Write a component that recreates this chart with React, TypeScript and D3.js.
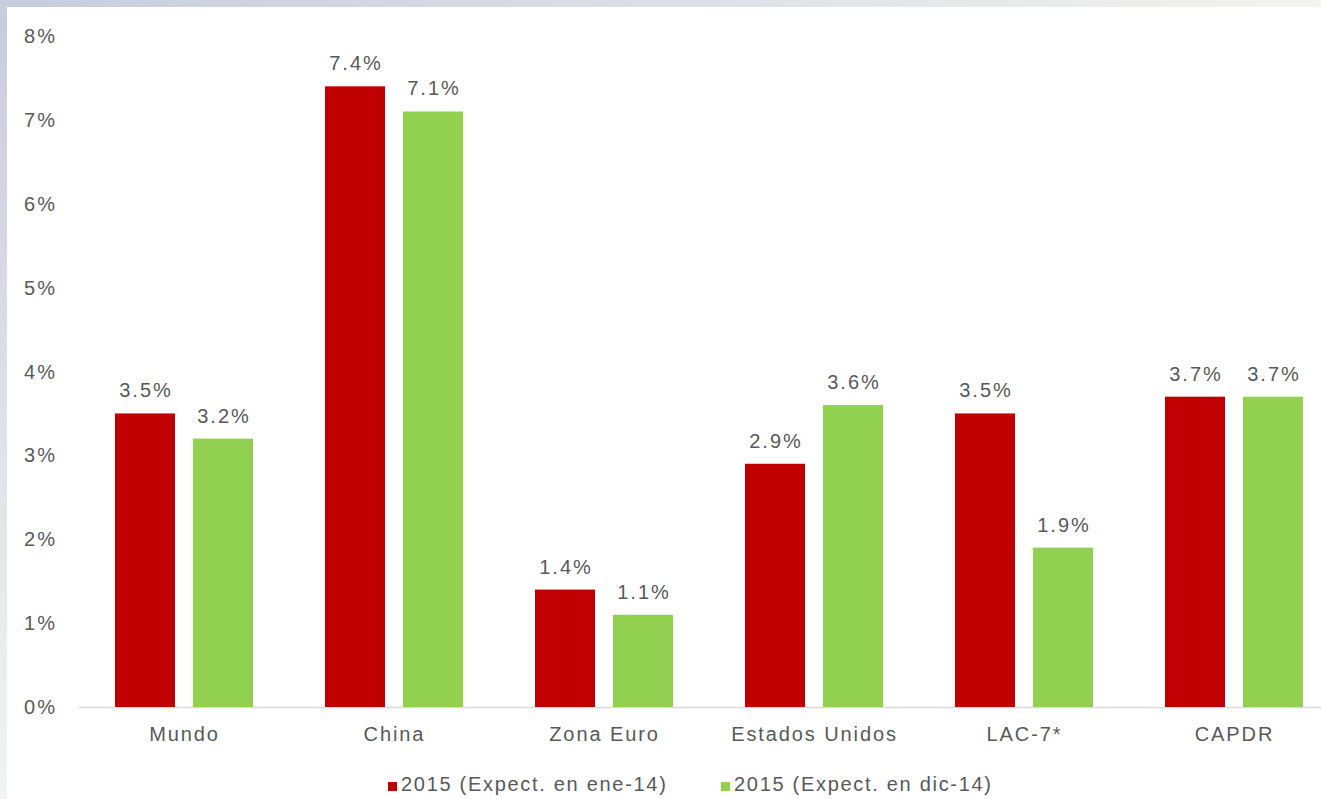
import React from "react";
import * as d3 from "d3";

const categories = ["Mundo", "China", "Zona Euro", "Estados Unidos", "LAC-7*", "CAPDR"];
const seriesNames = ["2015 (Expect. en ene-14)", "2015 (Expect. en dic-14)"];
const expectEne14 = [3.5, 7.4, 1.4, 2.9, 3.5, 3.7];
const expectDic14 = [3.2, 7.1, 1.1, 3.6, 1.9, 3.7];
const yTicks = [0, 1, 2, 3, 4, 5, 6, 7, 8];
const colors = ["#C00000", "#92D050"];

const W = 1321;
const H = 799;
const FONT = "'Liberation Sans', Arial, sans-serif";
const TEXT = "#595959";

export default function App() {
  const x = d3.scaleBand<string>().domain(categories).range([78.5, 1338.5]).paddingInner(0).paddingOuter(0);
  const inner = d3
    .scaleBand<number>()
    .domain([0, 1])
    .range([36.5, x.bandwidth() - 35.5])
    .paddingInner(18 / 78);
  const y = d3.scaleLinear().domain([0, 8]).range([707, 36]);
  const series = [expectEne14, expectDic14];

  return (
    <svg
      width={W}
      height={H}
      style={{ position: "absolute", left: 0, top: 0, display: "block" }}
      fontFamily={FONT}
    >
      <defs>
        <linearGradient id="frame" x1="0" y1="0" x2="1" y2="0.4">
          <stop offset="0" stopColor="#c6cddb" />
          <stop offset="0.5" stopColor="#dfe2e8" />
          <stop offset="1" stopColor="#fbfaf0" />
        </linearGradient>
        <linearGradient id="frameL" x1="0" y1="0" x2="0" y2="1">
          <stop offset="0" stopColor="#c6cddb" />
          <stop offset="1" stopColor="#f2f3f6" />
        </linearGradient>
      </defs>
      <rect x={0} y={0} width={W} height={H} fill="url(#frame)" />
      <rect x={0} y={0} width={7} height={H} fill="url(#frameL)" />
      <rect x={7} y={7} width={W - 7} height={H - 7} fill="#ffffff" />

      {/* y tick labels */}
      {yTicks.map((t) => (
        <text
          key={t}
          x={57}
          y={y(t) + 7}
          textAnchor="end"
          fontSize={20}
          letterSpacing={2}
          fill={TEXT}
        >
          {t + "%"}
        </text>
      ))}

      {/* baseline */}
      <line x1={79} x2={W} y1={y(0) + 0.5} y2={y(0) + 0.5} stroke="#d9d9d9" strokeWidth={1.5} />

      {/* bars */}
      {categories.map((c, i) => (
        <g key={c} transform={`translate(${x(c)},0)`}>
          {series.map((s, k) => (
            <g key={k}>
              <rect
                x={inner(k)}
                y={y(s[i])}
                width={inner.bandwidth()}
                height={y(0) - y(s[i])}
                fill={colors[k]}
              />
              <text
                x={(inner(k) as number) + inner.bandwidth() / 2 + 1}
                y={y(s[i]) - 16}
                textAnchor="middle"
                fontSize={20}
                letterSpacing={2}
                fill={TEXT}
              >
                {s[i].toFixed(1) + "%"}
              </text>
            </g>
          ))}
          <text
            x={x.bandwidth() / 2 + 1}
            y={741}
            textAnchor="middle"
            fontSize={20}
            letterSpacing={1.9}
            fill={TEXT}
          >
            {c}
          </text>
        </g>
      ))}

      {/* legend */}
      {seriesNames.map((n, k) => {
        const lx = k === 0 ? 388 : 721;
        return (
          <g key={n}>
            <rect x={lx} y={782} width={9} height={9} fill={colors[k]} />
            <text x={lx + 13} y={791} fontSize={20} letterSpacing={1.7} fill={TEXT}>
              {n}
            </text>
          </g>
        );
      })}
    </svg>
  );
}
